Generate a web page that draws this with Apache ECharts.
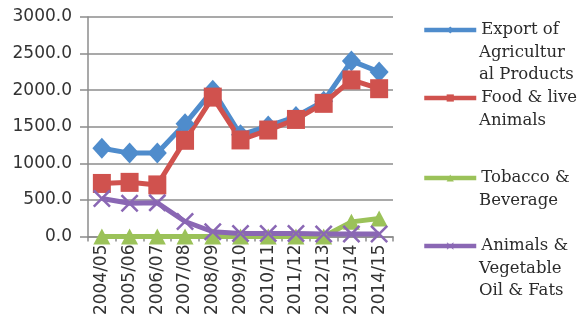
<!DOCTYPE html>
<html>
<head>
<meta charset="utf-8">
<script src="https://cdn.jsdelivr.net/npm/echarts@6/dist/echarts.min.js"></script>
<style>
  html, body { margin: 0; padding: 0; background: #ffffff; }
  #chart { width: 580px; height: 326px; }
</style>
</head>
<body>
<div id="chart"></div>
<script>
// data
const years = ['2004/05', '2005/06', '2006/07', '2007/08', '2008/09', '2009/10', '2010/11', '2011/12', '2012/13', '2013/14', '2014/15']
const exportProducts = [1205, 1140, 1140, 1540, 2000, 1390, 1510, 1640, 1850, 2400, 2250]
const foodAnimals = [725, 740, 705, 1315, 1905, 1320, 1455, 1600, 1820, 2140, 2020]
const tobaccoBeverage = [0, 0, 0, 0, 0, 0, 0, 0, 0, 200, 245]
const oilFats = [520, 455, 460, 205, 65, 40, 40, 40, 35, 35, 35]
const yTicks = [0, 500, 1000, 1500, 2000, 2500, 3000]

const names = ['Export of\nAgricultur\nal Products', 'Food & live\nAnimals', 'Tobacco &\nBeverage', 'Animals &\nVegetable\nOil & Fats']
const colors = ['#4f8ccc', '#d0524e', '#9bc259', '#8a67b4']
const xShape = 'path://M0,1L1,0L5,4L9,0L10,1L6,5L10,9L9,10L5,6L1,10L0,9L4,5Z'

let chart = echarts.init(document.getElementById('chart'))

const lineH = 22.5
const legendCenters = [30, 98, 178, 246]
const legendFont = { fontFamily: 'DejaVu Serif', fontSize: 16.5, color: '#2b2b2b' }

// one legend per item: the marker goes with the first line of the name,
// the rest of the name is written below it
function makeLegend(i) {
  return {
    data: [names[i]],
    left: 422,
    top: legendCenters[i] - lineH / 2,
    padding: 0,
    itemWidth: 52,
    itemHeight: 9,
    selectedMode: false,
    lineStyle: { width: 4.5 },
    formatter: name => name.split('\n')[0],
    textStyle: Object.assign({ lineHeight: lineH }, legendFont)
  }
}

function makeRest(i) {
  const rest = names[i].split('\n').slice(1).join('\n')
  return {
    type: 'text',
    left: 479,
    top: legendCenters[i] + lineH / 2,
    silent: true,
    style: { text: rest, lineHeight: lineH, fill: legendFont.color, font: legendFont.fontSize + 'px "DejaVu Serif"' }
  }
}

function makeSeries(i, values, symbol, size) {
  return {
    name: names[i],
    type: 'line',
    data: values,
    symbol: symbol,
    symbolSize: size,
    showAllSymbol: true,
    lineStyle: { color: colors[i], width: 5 },
    itemStyle: { color: colors[i] },
    emphasis: { disabled: true }
  }
}

const option = {
  animation: false,
  color: colors,
  grid: { left: 88, right: 187, top: 17, bottom: 89.5 },
  legend: [0, 1, 2, 3].map(makeLegend),
  graphic: [0, 1, 2, 3].map(makeRest),
  xAxis: {
    type: 'category',
    data: years,
    boundaryGap: true,
    axisLine: { lineStyle: { color: '#8c8c8c', width: 1.5 } },
    axisTick: { show: true, length: 5, lineStyle: { color: '#8c8c8c', width: 1.5 } },
    axisLabel: {
      rotate: 90,
      margin: 8,
      interval: 0,
      fontFamily: 'DejaVu Sans',
      fontSize: 17,
      color: '#333333'
    }
  },
  yAxis: {
    type: 'value',
    min: yTicks[0],
    max: yTicks[yTicks.length - 1],
    interval: 500,
    axisLine: { show: true, lineStyle: { color: '#8c8c8c', width: 1.5 } },
    axisTick: { show: true, length: 8, lineStyle: { color: '#8c8c8c', width: 1.5 } },
    splitLine: { lineStyle: { color: '#8c8c8c', width: 1.5 } },
    axisLabel: {
      margin: 16,
      fontFamily: 'DejaVu Sans',
      fontSize: 17,
      color: '#333333',
      formatter: v => v.toFixed(1)
    }
  },
  series: [
    makeSeries(0, exportProducts, 'diamond', [19, 21]),
    makeSeries(1, foodAnimals, 'rect', [18, 19]),
    makeSeries(2, tobaccoBeverage, 'triangle', [17, 16]),
    makeSeries(3, oilFats, xShape, 18)
  ]
}

chart.setOption(option)
</script>
</body>
</html>
